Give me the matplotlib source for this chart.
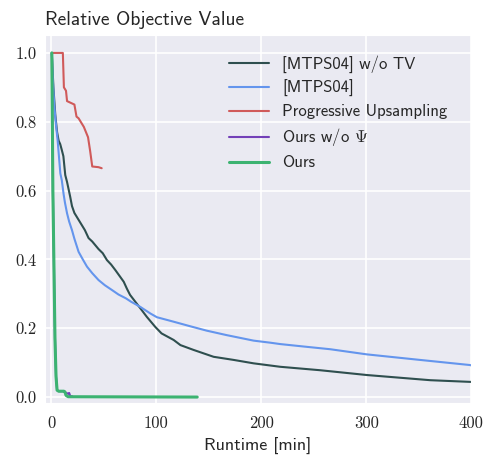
import matplotlib
matplotlib.use("Agg")
import matplotlib.pyplot as plt
import seaborn as sns

# --- data ---
tv_x = [0.5, 2, 3.8, 5.5, 7, 8.5, 10, 11.5, 13.3, 15, 18, 19.7, 22, 26, 29, 32, 35.5, 39, 45, 49, 53, 57,
        61, 65, 69, 72, 75, 78, 84.8, 91, 99, 105, 116.5, 123, 135.5, 154.6, 173.6, 192.7, 218,
        256, 300.7, 361, 400]
tv_y = [1.0, 0.90, 0.82, 0.77, 0.745, 0.735, 0.718, 0.70, 0.645, 0.625, 0.582, 0.555, 0.535, 0.515, 0.50,
        0.485, 0.462, 0.452, 0.430, 0.418, 0.398, 0.385, 0.369, 0.352, 0.335, 0.315, 0.297, 0.285,
        0.258, 0.233, 0.204, 0.185, 0.166, 0.151, 0.137, 0.117, 0.108, 0.098, 0.088,
        0.078, 0.064, 0.049, 0.044]

mtps_x = [0.5, 1.5, 2.9, 4.5, 6, 7, 8.6, 10, 11.7, 13, 15, 17, 19.7, 22, 26, 30, 34, 39, 45, 51, 57.8,
          64, 71, 76, 84.8, 94.3, 100.6, 116.5, 132, 148, 167, 192.7, 208.6, 218, 240, 265.7,
          300.7, 351, 399, 400]
mtps_y = [1.0, 0.92, 0.844, 0.79, 0.747, 0.71, 0.65, 0.63, 0.59, 0.565, 0.534, 0.51, 0.485, 0.46, 0.422,
          0.40, 0.379, 0.36, 0.34, 0.325, 0.311, 0.298, 0.287, 0.277, 0.262, 0.243, 0.232, 0.219,
          0.206, 0.193, 0.18, 0.164, 0.158, 0.154, 0.147, 0.139, 0.124, 0.108, 0.093, 0.092]

prog_x = [0.5, 11, 12, 14, 15, 22, 24, 26, 28, 31, 33, 35, 37, 39, 45, 48]
prog_y = [1.0, 1.0, 0.90, 0.89, 0.86, 0.85, 0.815, 0.81, 0.80, 0.785, 0.77, 0.755, 0.715, 0.67, 0.668, 0.665]

nopsi_x = [0.5, 1.5, 2.2, 3.5, 4.5, 5.5, 7, 12, 14, 16, 17, 18, 20]
nopsi_y = [1.0, 0.6, 0.45, 0.17, 0.06, 0.02, 0.017, 0.017, 0.012, 0.01, 0.012, 0.003, 0.002]

ours_x = [0.5, 1.5, 2.2, 3.5, 4.5, 5.5, 7, 12, 13, 14, 16, 139]
ours_y = [1.0, 0.6, 0.45, 0.17, 0.06, 0.02, 0.017, 0.017, 0.015, 0.005, 0.001, 0.0]

x_ticks = [0, 100, 200, 300, 400]
y_ticks = [0.0, 0.2, 0.4, 0.6, 0.8, 1.0]

sns.set_style("darkgrid")
plt.rcParams["font.family"] = ["cmss10", "DejaVu Sans"]
plt.rcParams["mathtext.fontset"] = "cm"
plt.rcParams["axes.unicode_minus"] = False

fig = plt.figure(figsize=(4.86, 4.61), dpi=100)
ax = fig.add_axes([0.0926, 0.126, 0.877, 0.798])

ax.plot(tv_x, tv_y, color="#2F4F4F", lw=1.5, label="[MTPS04] w/o TV")
ax.plot(mtps_x, mtps_y, color="#6495ED", lw=1.5, label="[MTPS04]")
ax.plot(prog_x, prog_y, color="#D05A5A", lw=1.5, label="Progressive Upsampling")
ax.plot(nopsi_x, nopsi_y, color="#7340B8", lw=1.5, label=r"Ours w/o $\Psi$")
ax.plot(ours_x, ours_y, color="#3CB371", lw=2.2, label="Ours")

ax.set_xlim(-6, 400)
ax.set_ylim(-0.017, 1.052)
ax.set_xticks(x_ticks)
ax.set_yticks(y_ticks)
ax.set_xticklabels([f"{t}" for t in x_ticks], fontfamily="cmr10", fontsize=12)
ax.set_yticklabels([f"{t:.1f}" for t in y_ticks], fontfamily="cmr10", fontsize=12)
ax.tick_params(axis="x", length=0, pad=9)
ax.tick_params(axis="y", length=0, pad=6)
ax.grid(True, color="white", lw=1.2)

ax.set_xlabel("Runtime [min]", fontsize=13, labelpad=5)
ax.set_title("Relative Objective Value", loc="left", fontsize=14, pad=7)

ax.legend(loc="upper right", fontsize=12, frameon=False, handlelength=2.4,
          labelspacing=0.42, bbox_to_anchor=(0.98, 0.985))

fig.savefig("out.png", dpi=100)
